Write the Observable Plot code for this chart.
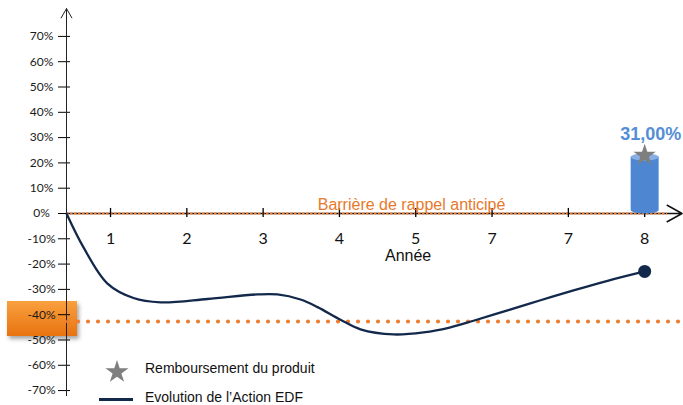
<!DOCTYPE html>
<html>
<head>
<meta charset="utf-8">
<script src="https://cdn.jsdelivr.net/npm/d3@7"></script>
<script src="https://cdn.jsdelivr.net/npm/@observablehq/plot@0.6"></script>
<style>
  body { margin: 0; background: #fff; }
  #wrap { position: relative; width: 683px; height: 405px; overflow: hidden; font-family: "Liberation Sans", Arial, sans-serif; }
  #wrap svg.plot { position: absolute; left: 0; top: 0; }
  #box { position: absolute; left: 7px; top: 301px; width: 70px; height: 35px;
         background: linear-gradient(#f9a03f, #e8730f); box-shadow: 2px 3px 4px rgba(0,0,0,0.35); }
  .leg { position: absolute; font-size: 14px; color: #111; white-space: nowrap; }
</style>
</head>
<body>
<div id="wrap">
  <div id="box"></div>
</div>
<script>
// ---- data ----
const xOrigin = 0.423;           // position of the origin relative to tick 1
const xEnd = 8.509;
const yDomain = [-75.9, 84.2];
const xTickPos = [1, 2, 3, 4, 5, 6, 7, 8];
const xTickLabels = ["1", "2", "3", "4", "5", "7", "7", "8"];
const yTicks = [-70, -60, -50, -40, -30, -20, -10, 0, 10, 20, 30, 40, 50, 60, 70];

// Evolution de l'Action EDF (%)
const curveX = [0.423, 0.646, 0.960, 1.301, 1.655, 2.271, 2.926, 3.188, 3.490, 3.713, 4.014, 4.276, 4.709, 5.102, 5.456, 5.757, 6.203, 6.635, 7.068, 7.514, 8.0];
const curveY = [0, -13.4, -27.7, -33.4, -35.1, -33.8, -32.0, -32.0, -34.0, -37.0, -42.0, -45.8, -47.8, -47.0, -45.0, -42.4, -38.3, -34.3, -30.4, -26.6, -22.9];

const barrierLevel = [0];
const protectionLevel = [-42.7];
const cylinderX = [8];
const cylinderTop = [21];
const payoutLabels = ["31,00%"];
const barrierLabel = ["Barrière de rappel anticipé"];
const axisTitle = ["Année"];
const legendLabels = ["Remboursement du produit", "Evolution de l’Action EDF"];

const navy = "#13294b";
const orange = "#ed7d31";
const blue = "#4f86d2";

const curve = curveX.map((x, i) => ({x, y: curveY[i]}));

const ellipse = {
  draw(ctx, size) {
    const rx = Math.sqrt(size / Math.PI), ry = rx * 0.25, k = 0.5523;
    ctx.moveTo(rx, 0);
    ctx.bezierCurveTo(rx, ry * k, rx * k, ry, 0, ry);
    ctx.bezierCurveTo(-rx * k, ry, -rx, ry * k, -rx, 0);
    ctx.bezierCurveTo(-rx, -ry * k, -rx * k, -ry, 0, -ry);
    ctx.bezierCurveTo(rx * k, -ry, rx, -ry * k, rx, 0);
    ctx.closePath();
  }
};

const chart = Plot.plot({
  width: 683,
  height: 405,
  marginLeft: 66,
  marginRight: 0,
  marginTop: 0,
  marginBottom: 0,
  x: {domain: [xOrigin, xEnd], axis: null},
  y: {domain: yDomain, axis: null},
  style: {background: "transparent", overflow: "visible"},
  marks: [
    // y axis ticks (crossing) and labels
    Plot.axisY(yTicks, {tickSize: 12, dx: 4, tickFormat: () => "", color: "#000", label: null}),
    Plot.axisY(yTicks, {tickSize: 0, tickPadding: 25, textAnchor: "middle", tickFormat: d => d + "%",
      fontSize: 12, fontFamily: "Lato", color: "#1a1a1a", label: null}),
    // axes with arrows
    Plot.arrow([0], {x1: xOrigin, x2: xOrigin, y1: -72, y2: 81, stroke: "#222", strokeWidth: 1, headLength: 16, headAngle: 60}),
    Plot.arrow([0], {x1: xOrigin, x2: 8.49, y1: 0, y2: 0, stroke: "#111", strokeWidth: 1.5, headLength: 17, headAngle: 58}),
    // barrière (orange dashes on the x axis)
    Plot.ruleY(barrierLevel, {x1: xOrigin, x2: 8.3, stroke: orange, strokeWidth: 2, strokeDasharray: "2.5,1.5"}),
    // x ticks and labels
    Plot.ruleX(xTickPos, {y1: -1.6, y2: 2.0, stroke: "#000", strokeWidth: 1.3}),
    Plot.text(xTickPos, {x: d => d, y: 0, text: (d, i) => xTickLabels[i], dy: 25, fontSize: 16, fontFamily: "Lato", fill: "#111"}),
    Plot.text(barrierLabel, {x: 4.945, y: 0, text: d => d, dy: -9, fontSize: 16, fontFamily: "Liberation Sans", fill: "#e8792b"}),
    Plot.text(axisTitle, {x: 4.9, y: 0, text: d => d, dy: 42, fontSize: 16, fontFamily: "Liberation Sans", fill: "#111"}),
    // protection level dotted line
    Plot.ruleY(protectionLevel, {stroke: orange, strokeWidth: 4.2, strokeDasharray: "0,10", strokeLinecap: "round", strokeDashoffset: -2}),
    // action curve
    Plot.line(curve, {x: "x", y: "y", curve: "catmull-rom", stroke: navy, strokeWidth: 2.3}),
    Plot.dot(curve.slice(-1), {x: "x", y: "y", r: 6.5, fill: navy}),
    // cylinder
    Plot.ruleX(cylinderX, {y1: 0, y2: (d, i) => cylinderTop[i], stroke: blue, strokeWidth: 28, dy: -3.5}),
    Plot.dot(cylinderX, {x: d => d, y: 0, symbol: ellipse, r: 14, fill: blue, dy: -3.5}),
    Plot.dot(cylinderX, {x: d => d, y: (d, i) => cylinderTop[i], symbol: ellipse, r: 14, fill: "#88aee4", dy: -3.5}),
    Plot.dot(cylinderX, {x: d => d, y: (d, i) => cylinderTop[i], symbol: "star", r: 7, fill: "#7f7f7f", dy: -5}),
    Plot.text(payoutLabels, {x: cylinderX[0], y: cylinderTop[0], text: d => d, dy: -26, dx: 6, fontSize: 18,
      fontWeight: "bold", fontFamily: "Liberation Sans", fill: "#558ed5"})
  ]
});
chart.classList.add("plot");
const wrap = document.getElementById("wrap");
wrap.appendChild(chart);

// legend
const starPath = d3.symbol().type(d3.symbolStar).size(165)();
const leg1 = document.createElement("div");
leg1.className = "leg";
leg1.style.left = "104px"; leg1.style.top = "358px";
leg1.innerHTML = `<svg width="26" height="26" style="vertical-align:middle"><path transform="translate(13,14)" d="${starPath}" fill="#7f7f7f"/></svg>`;
wrap.appendChild(leg1);
const t1 = document.createElement("div");
t1.className = "leg"; t1.style.left = "145px"; t1.style.top = "360px"; t1.textContent = legendLabels[0];
wrap.appendChild(t1);
const line2 = document.createElement("div");
line2.style.cssText = `position:absolute;left:99px;top:398px;width:34px;height:2.5px;background:${navy}`;
wrap.appendChild(line2);
const t2 = document.createElement("div");
t2.className = "leg"; t2.style.left = "145px"; t2.style.top = "389px"; t2.textContent = legendLabels[1];
wrap.appendChild(t2);
</script>
</body>
</html>
